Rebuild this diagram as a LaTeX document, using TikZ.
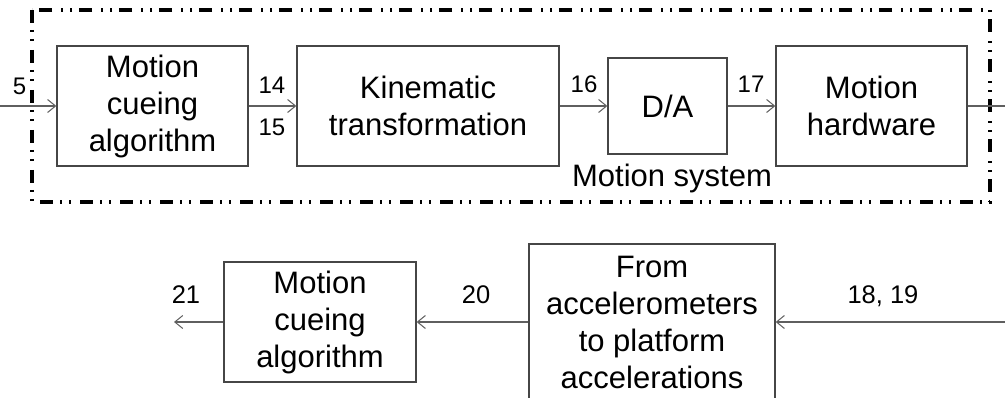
\documentclass[tikz,border=0pt]{standalone}
\usepackage{fontspec}
\setmainfont{Liberation Sans}
\usetikzlibrary{arrows.meta}
\definecolor{boxc}{RGB}{70,70,70}
\definecolor{arrc}{RGB}{95,95,95}
\begin{document}
\begin{tikzpicture}[x=1pt,y=-1pt,
  blk/.style={draw=boxc, line width=1.3pt, align=center, inner sep=0pt,
    font=\fontsize{31}{37}\selectfont},
  lbl/.style={font=\fontsize{24}{28}\selectfont, inner sep=0pt, anchor=base},
  lblb/.style={font=\fontsize{25.5}{30}\selectfont, inner sep=0pt, anchor=base},
  bigl/.style={font=\fontsize{31}{37}\selectfont, inner sep=0pt, anchor=base},
  wire/.style={draw=arrc, line width=1.3pt},
  conn/.style={wire, -{Straight Barb[length=8pt,width=13pt,line width=1pt]}},
  frame/.style={draw=black, line width=3.2pt,
    dash pattern=on 13pt off 7pt on 2pt off 7pt on 2pt off 9pt}
]
\useasboundingbox (0,0) rectangle (1005,398);
\fill[white] (0,0) rectangle (1005,398);

% frame of the motion system
\draw[frame] (32,10) rectangle (990,202);
\node[bigl] (ms) at (672,187) {Motion system};

% top row
\node[blk, minimum width=191pt, minimum height=120pt] (b1) at (152.5,106) {Motion\\cueing\\algorithm};
\node[blk, minimum width=262pt, minimum height=120pt] (b2) at (428,106) {Kinematic\\transformation};
\node[blk, minimum width=119pt, minimum height=96pt] (b3) at (667.5,106) {D/A};
\node[blk, minimum width=191pt, minimum height=120pt] (b4) at (871.5,106) {Motion\\hardware};

\coordinate (in) at (0,106);
\coordinate (out) at (1005,106);
\draw[conn] (in) -- (b1);
\draw[conn] (b1) -- (b2);
\draw[conn] (b2) -- (b3);
\draw[conn] (b3) -- (b4);
\draw[wire] (b4) -- (out);

\node[lbl] (l5) at (19.5,95) {5};
\node[lbl] (l14) at (272,94) {14};
\node[lbl] (l15) at (272,136) {15};
\node[lbl] (l16) at (584,93) {16};
\node[lbl] (l17) at (751,93) {17};

% bottom row
\node[blk, minimum width=192pt, minimum height=120pt] (b5) at (320,322) {Motion\\cueing\\algorithm};
\node[blk, minimum width=246pt, minimum height=156pt] (b6) at (652,322) {From\\accelerometers\\to platform\\accelerations};

\coordinate (in2) at (1005,322);
\coordinate (out2) at (174,322);
\draw[conn] (in2) -- (b6);
\draw[conn] (b6) -- (b5);
\draw[conn] (b5) -- (out2);

\node[lblb] (l1819) at (883,304) {18, 19};
\node[lblb] (l20) at (476,304) {20};
\node[lblb] (l21) at (186,304) {21};
\end{tikzpicture}
\end{document}
